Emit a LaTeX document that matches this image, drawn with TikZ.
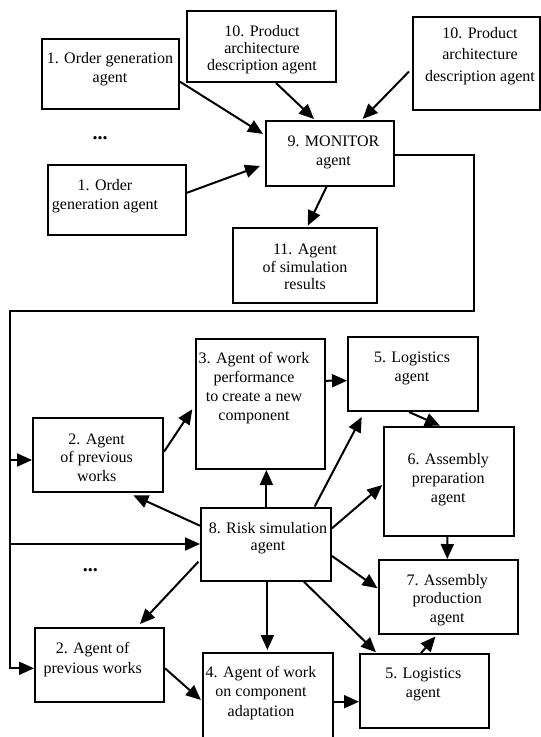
\documentclass[tikz,border=0pt]{standalone}
\usepackage{fontspec}
\setmainfont{Liberation Serif}
\usetikzlibrary{arrows.meta,fit}
\begin{document}
\begin{tikzpicture}[x=1pt,y=-1pt,
  bx/.style={draw, line width=2pt, inner sep=0pt},
  tx/.style={align=center, inner sep=0pt, font=\fontsize{16}{19}\selectfont},
  arr/.style={line width=2pt, -{Triangle[length=15pt,width=13pt]}},
  ln/.style={line width=2pt}]
\useasboundingbox (0,0) rectangle (541,737);
% boxes
\node[bx, fit={(42,38.5) (179,108.5)}] (o1) {};
\node[bx, fit={(187,11) (336,82)}] (p1) {};
\node[bx, fit={(413,17) (540,110)}] (p2) {};
\node[bx, fit={(266,121) (394,185.5)}] (m) {};
\node[bx, fit={(48,164.5) (186,235)}] (o2) {};
\node[bx, fit={(233,228) (377,302.5)}] (s) {};
\node[bx, fit={(196,338.5) (325,469)}] (a3) {};
\node[bx, fit={(348,337) (478,411)}] (l1) {};
\node[bx, fit={(33,417.5) (163,492)}] (a2t) {};
\node[bx, fit={(384,426.7) (513.5,536)}] (a6) {};
\node[bx, fit={(201,507.5) (331,580.5)}] (a8) {};
\node[bx, fit={(378.5,560) (517.5,633.5)}] (a7) {};
\node[bx, fit={(35,627.5) (164,702.3)}] (a2b) {};
\node[bx, fit={(203,652.5) (333,760)}] (a4) {};
\node[bx, fit={(360,654) (489,727.5)}] (l2) {};
% texts
\node[tx] (to1) at (110,69.3) {1. Order generation\\agent};
\node[tx, font=\fontsize{16}{17}\selectfont] (tp1) at (262,49.3) {10. Product\\architecture\\description agent};
\node[tx, font=\fontsize{16}{21.5}\selectfont] (tp2) at (480,55.7) {10. Product\\architecture\\description agent};
\node[tx] (tm) at (333.5,152) {9. MONITOR\\agent};
\node[tx] (to2) at (105,195.7) {1. Order\\generation agent};
\node[tx, font=\fontsize{16}{17.5}\selectfont] (ts) at (305,266.9) {11. Agent\\of simulation\\results};
\node[tx] (ta3) at (254,387.6) {3. Agent of work\\performance\\to create a new\\component};
\node[tx] (tl1) at (412,368) {5. Logistics\\agent};
\node[tx, font=\fontsize{16}{18.3}\selectfont] (ta2t) at (96.7,457.7) {2. Agent\\of previous\\works};
\node[tx] (ta6) at (448.3,479.8) {6. Assembly\\preparation\\agent};
\node[tx, font=\fontsize{16}{17.7}\selectfont] (ta8) at (268,538.2) {8. Risk simulation\\agent};
\node[tx, font=\fontsize{16}{18.3}\selectfont] (ta7) at (447.3,600.1) {7. Assembly\\production\\agent};
\node[tx, font=\fontsize{16}{20}\selectfont] (ta2b) at (92.7,659.3) {2. Agent of\\previous works};
\node[tx, font=\fontsize{16}{19.7}\selectfont] (ta4) at (261,692.9) {4. Agent of work\\on component\\adaptation};
\node[tx] (tl2) at (423.3,684.8) {5. Logistics\\agent};
\node[inner sep=0pt, font=\fontsize{20}{20}\selectfont\bfseries] (d1) at (100,138) {...};
\node[inner sep=0pt, font=\fontsize{20}{20}\selectfont\bfseries] (d2) at (90.4,570) {...};
% top arrows
\draw[arr] ([shift={(0,8.2)}]o1.east) -- ([shift={(-2,-19.3)}]m.west);
\draw[arr] ([shift={(0,-7)}]o2.east) -- ([shift={(-5,12.75)}]m.west);
\draw[arr] ([shift={(14.5,0)}]p1.south) -- ([shift={(-16,-1)}]m.north);
\draw[arr] ([shift={(-3,8)}]p2.west) -- ([shift={(32.7,-1)}]m.north);
\draw[arr] ([shift={(-3.3,0)}]m.south) -- ([shift={(2.7,-1.3)}]s.north);
% feedback line
\coordinate (c1) at (474,155);
\coordinate (c2) at (474,311);
\coordinate (c3) at (10,311);
\coordinate (j1) at (10,460);
\coordinate (j2) at (10,544);
\draw[ln] ([shift={(0,1.75)}]m.east) -- (c1) -- (c2) -- (c3) -- (j1);
\draw[arr] (c3) |- ([shift={(0,3.4)}]a2b.west);
\draw[arr] (j1) -- ([shift={(0,5.25)}]a2t.west);
\draw[arr] (j2) -- (a8.west);
% lower arrows
\draw[arr] ([shift={(0,-3)}]a2t.east) -- ([shift={(-2.7,5.5)}]a3.west);
\draw[arr] ([shift={(0,-23)}]a3.east) -- ([shift={(0,6.7)}]l1.west);
\draw[arr] ([shift={(-4,0)}]l1.south) -- ([shift={(-8.75,0)}]a6.north);
\draw[arr] ([shift={(0.4,0)}]a8.north) -- ([shift={(5.9,0)}]a3.south);
\draw[arr] ([shift={(48.7,0)}]a8.north) -- ([shift={(-51.3,5)}]l1.south);
\draw[arr] ([shift={(0,-15.7)}]a8.east) -- ([shift={(-0.7,3.65)}]a6.west);
\draw[arr] ([shift={(0,-18.3)}]a8.west) -- ([shift={(35.3,2.3)}]a2t.south);
\draw[arr] ([shift={(-1.6,17.7)}]a8.west) -- ([shift={(40.5,-2.5)}]a2b.north);
\draw[arr] ([shift={(1.4,0)}]a8.south) -- ([shift={(-0.6,-1.5)}]a4.north);
\draw[arr] ([shift={(0,12)}]a8.east) -- ([shift={(0,-8.45)}]a7.west);
\draw[arr] ([shift={(37.7,0)}]a8.south) -- ([shift={(-48.5,-0.7)}]l2.north);
\draw[arr] ([shift={(-1.4,0)}]a6.south) -- ([shift={(-0.7,0)}]a7.north);
\draw[arr] ([shift={(0,3.4)}]a2b.east) -- ([shift={(-1.1,-6.25)}]a4.west);
\draw[arr] ([shift={(0,-4.55)}]a4.east) -- ([shift={(0,10.95)}]l2.west);
\draw[arr] ([shift={(-3.5,0)}]l2.north) -- ([shift={(-12.5,2)}]a7.south);
\end{tikzpicture}
\end{document}
